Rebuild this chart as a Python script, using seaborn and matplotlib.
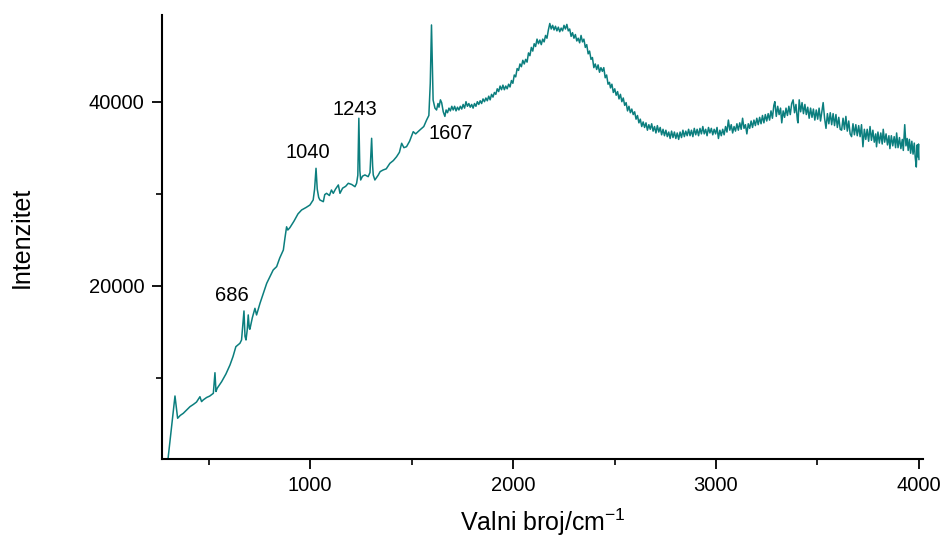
import numpy as np
import pandas as pd
import matplotlib
matplotlib.use("Agg")
import matplotlib.pyplot as plt
import seaborn as sns
from matplotlib.ticker import FixedLocator

# spectrum (wavenumber / intensity)
wavenumber = [
    300, 334, 347, 360, 375, 392, 408, 425, 440, 457, 465, 473, 490, 505, 523, 531, 536, 542,
    564, 585, 605, 620, 634, 654, 662, 674, 679, 684, 690, 695, 700, 703, 715, 728, 736, 753,
    770, 786, 800, 818, 835, 850, 868, 876, 884, 890, 900, 920, 940, 958, 980, 999, 1015, 1022,
    1029, 1035, 1042, 1048, 1065, 1072, 1081, 1095, 1105, 1114, 1125, 1139, 1147, 1160, 1175,
    1188, 1205, 1221, 1229, 1235, 1240, 1245, 1249, 1258, 1270, 1286, 1295, 1303, 1308, 1311,
    1319, 1335, 1345, 1360, 1375, 1393, 1410, 1426, 1440, 1451, 1462, 1475, 1490, 1508, 1520,
    1541, 1560, 1574, 1585, 1592, 1598, 1602, 1606,
    1615, 1623, 1630, 1635, 1642, 1648, 1656, 1664, 1670, 1677, 1684, 1691, 1698, 1705, 1712,
    1719, 1726, 1733, 1740, 1747, 1754, 1761, 1768, 1775, 1782, 1789, 1796, 1803, 1810, 1817,
    1824, 1831, 1838, 1845, 1852, 1859, 1866, 1873, 1880, 1887, 1894, 1901, 1908, 1915, 1922,
    1929, 1936, 1943, 1950, 1957, 1964, 1971, 1978, 1985, 1992, 1999, 2006, 2013, 2020, 2027,
    2034, 2041, 2048, 2055, 2062, 2069, 2076, 2083, 2090, 2097, 2104, 2111, 2118, 2125, 2132,
    2139, 2146, 2153, 2160, 2167, 2174, 2181, 2188, 2195, 2202, 2209, 2216, 2223, 2230, 2237,
    2244, 2251, 2258, 2265, 2272, 2279, 2286, 2293, 2300, 2307, 2314, 2321, 2328, 2335, 2342,
    2349, 2356, 2363, 2370, 2377, 2384, 2391, 2398, 2405, 2412, 2419, 2426, 2433, 2440, 2447,
    2454, 2461, 2468, 2475,
    2480, 2487, 2494, 2501, 2508, 2515, 2522, 2529, 2536, 2543, 2550, 2557, 2564, 2571, 2578,
    2585, 2592, 2599, 2606, 2613, 2620, 2627, 2634, 2641, 2648, 2655, 2662, 2669, 2676, 2683,
    2690, 2697, 2704, 2711, 2718, 2725, 2732, 2739, 2746, 2753, 2760, 2767, 2774, 2781, 2788,
    2795, 2802, 2809, 2816, 2823, 2830, 2837, 2844, 2851, 2858, 2865, 2872, 2879, 2886, 2893,
    2900, 2907, 2914, 2921, 2928, 2935, 2942, 2949, 2956, 2963, 2970, 2977, 2984, 2991, 2998,
    3005, 3012, 3019, 3026, 3033, 3040, 3047, 3054, 3061, 3068, 3075, 3082, 3089, 3096, 3103,
    3110, 3117, 3124, 3131, 3138, 3145, 3152, 3159, 3166, 3173, 3180, 3187, 3194, 3201, 3208,
    3215, 3222, 3229, 3236, 3243, 3250, 3257, 3264, 3271, 3278, 3285, 3290, 3297, 3304, 3311,
    3318, 3324, 3331, 3338, 3345, 3352, 3359, 3366, 3373, 3380, 3387, 3394, 3401, 3404, 3410,
    3417, 3424, 3431, 3438, 3445, 3452, 3459, 3466, 3473, 3480, 3487, 3494, 3501, 3508, 3515,
    3522, 3528, 3535, 3542, 3549, 3556, 3563, 3570, 3577, 3584, 3591, 3598, 3605, 3612, 3619,
    3626, 3633, 3640, 3647, 3654, 3661, 3668, 3675, 3682, 3689, 3696, 3703, 3710, 3717, 3724,
    3731, 3738, 3745, 3752, 3759, 3766, 3773, 3780, 3787, 3791, 3798, 3805, 3812, 3819, 3824,
    3831, 3838, 3845, 3852, 3857, 3864, 3871, 3878, 3885, 3890, 3897, 3904, 3911, 3918, 3923,
    3930, 3936, 3942, 3947, 3953, 3959, 3965, 3971, 3977, 3982, 3987, 3991, 3995, 3998, 4000,
]
intensity = [
    1240, 8010, 5590, 5900, 6130, 6500, 6850, 7100, 7350, 7930, 7400, 7580, 7850, 8000, 8300, 10540, 8500, 8850,
    9570, 10400, 11380, 12300, 13370, 13740, 14100, 17250, 14500, 14100, 15200, 16820, 15400, 15260, 16500, 17540, 16820, 18090,
    19200, 20260, 20900, 21710, 22070, 23000, 23880, 25200, 26400, 26050, 26300, 27000, 27800, 28230, 28500, 28770, 29320, 30500,
    32760, 30500, 29600, 29320, 29130, 29900, 30040, 29800, 30400, 30040, 30500, 30950, 30040, 30600, 30800,
    31130, 31000, 30760, 31130, 32000, 38200, 32500, 31490, 31900, 32040, 31850, 32300, 36020, 33000, 32040,
    31490, 32000, 32400, 32580, 32700, 33300, 33600, 34020, 34500, 35480, 35000, 35110, 35700, 36740, 36500,
    36930, 37300, 38010, 38500, 42000, 48340, 44000, 40180,
    39300, 39100, 39800, 39400, 40200, 39900, 38900, 38400, 39100, 38800, 39300, 39000, 39500, 39100, 39500,
    39000, 39400, 39100, 39500, 39200, 39700, 39300, 40000, 39500, 39800, 39400, 39700, 39300, 39800, 39500,
    40000, 39700, 40100, 39800, 40300, 40000, 40400, 40100, 40600, 40200, 40800, 40500, 41000, 40800, 41400,
    41100, 41700, 41300, 41800, 41300, 41700, 41400, 41900, 41600, 42300, 42000, 42900, 42700, 43600, 43400,
    44100, 43800, 44500, 44100, 44600, 44300, 45300, 45000, 45900, 45500, 46300, 46000, 46800, 46300, 46700,
    46200, 46800, 46500, 47200, 46900, 47800, 48500, 47900, 48300, 47800, 48200, 47700, 48100, 47600, 48000,
    47700, 48300, 47900, 48400, 47700, 47900, 47100, 47500, 46900, 47300, 46600, 46900, 46400, 47200, 46500,
    46800, 45900, 46200, 45200, 45500, 44600, 44800, 43700, 44100, 43500, 44000, 43200, 43700, 43300, 43700,
    42600, 42900, 41900, 42100,
    41500, 41900, 41000, 41400, 40700, 41100, 40300, 40800, 40000, 40400, 39600, 39900, 39000, 39500, 38800,
    39200, 38600, 38900, 38100, 38500, 37700, 38100, 37300, 37800, 37200, 37700, 36900, 37500, 37000, 37600,
    36800, 37300, 36600, 37400, 36700, 37200, 36400, 37000, 36300, 36900, 36200, 36700, 36000, 36800, 36100,
    36700, 36000, 36600, 35900, 36700, 36100, 36900, 36200, 36800, 36300, 37000, 36300, 36900, 36200, 37100,
    36400, 37000, 36300, 37100, 36500, 37300, 36500, 37000, 36300, 37200, 36600, 37100, 36400, 37000, 36500,
    37200, 36000, 36900, 36300, 37000, 36400, 37300, 36700, 38000, 36900, 37500, 36600, 37300, 36800, 37600,
    36900, 37700, 37000, 38200, 37100, 37500, 36500, 37600, 37100, 37900, 37200, 38000, 37400, 38200, 37500,
    38300, 37600, 38500, 37700, 38600, 37900, 38700, 38000, 39000, 38200, 39600, 40000, 38400, 39500, 38600,
    39300, 37700, 39000, 38300, 39300, 38500, 39500, 38600, 39800, 40200, 38800, 39700, 38000, 37700, 40200,
    38900, 39900, 38700, 39700, 38600, 39400, 38200, 39300, 38300, 39200, 38000, 39100, 38100, 39300, 37900,
    39000, 39900, 38200, 37100, 38700, 37600, 38800, 37500, 38700, 37400, 38600, 37200, 38300, 37000, 36900,
    38200, 37000, 38400, 36800, 37900, 36500, 36200, 37600, 36400, 37500, 36300, 37400, 36200, 37500, 35100,
    37000, 35900, 37000, 35700, 37300, 35800, 36900, 35600, 36500, 35100, 36700, 35500, 36600, 35400, 37000,
    35600, 36500, 35300, 36300, 34900, 36300, 35200, 36200, 35000, 36600, 35000, 36100, 34900, 35900, 34700,
    37500, 35200, 36000, 34700, 35900, 34400, 35700, 34300, 35500, 33900, 32900, 35300, 34000, 35400, 33700,
]

peak_labels = ["686", "1040", "1243", "1607"]
peak_label_x = [615, 989, 1218, 1694]
peak_label_y = [18880, 34530, 39100, 36540]

x_major = [1000, 2000, 3000, 4000]
x_minor = [500, 1500, 2500, 3500]
y_major = [20000, 40000]
y_minor = [10000, 30000]

df = pd.DataFrame({"wavenumber": wavenumber, "intensity": intensity})

sns.set_style("ticks")
plt.rcParams["font.family"] = ["Liberation Sans", "DejaVu Sans"]
plt.rcParams["mathtext.default"] = "regular"

fig = plt.figure(figsize=(9.49, 5.41), dpi=100)
ax = fig.add_axes([0.1707, 0.1516, 0.8019, 0.8207])

sns.lineplot(data=df, x="wavenumber", y="intensity", ax=ax, sort=False,
             estimator=None, color="#0b7e7e", linewidth=1.1)

ax.set_xlim(270, 4020)
ax.set_ylim(1163, 49424)

ax.xaxis.set_major_locator(FixedLocator(x_major))
ax.xaxis.set_minor_locator(FixedLocator(x_minor))
ax.yaxis.set_major_locator(FixedLocator(y_major))
ax.yaxis.set_minor_locator(FixedLocator(y_minor))
ax.set_xticklabels([str(v) for v in x_major])
ax.set_yticklabels([str(v) for v in y_major])

ax.tick_params(which="major", direction="out", length=7.5, width=1.3,
               labelsize=14.5, colors="black", pad=5)
ax.tick_params(which="minor", direction="out", length=4, width=1.2, colors="black")

for s in ["top", "right"]:
    ax.spines[s].set_visible(False)
for s in ["left", "bottom"]:
    ax.spines[s].set_linewidth(1.5)
    ax.spines[s].set_color("black")

ax.set_xlabel("Valni broj/cm$^{-1}$", fontsize=18, labelpad=8, color="black")
ax.set_ylabel("Intenzitet", fontsize=18, labelpad=40, color="black")

for txt, tx, ty in zip(peak_labels, peak_label_x, peak_label_y):
    ax.text(tx, ty, txt, fontsize=14.5, ha="center", va="center", color="black")

plt.savefig("out.png", dpi=100)
plt.close()
